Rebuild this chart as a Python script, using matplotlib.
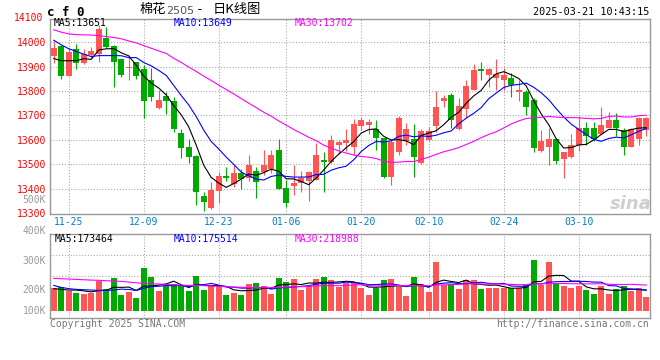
import matplotlib
matplotlib.use('Agg')
import matplotlib.pyplot as plt
import matplotlib.transforms as mtransforms
import numpy as np
import pandas as pd

# ------------------------------
# Datos (棉花2505, velas diarias)
holidays = ['2025-01-01', '2025-01-28', '2025-01-29', '2025-01-30',
            '2025-01-31', '2025-02-03', '2025-02-04']
dates = [d for d in pd.bdate_range('2024-11-21', '2025-03-21')
         if d.strftime('%Y-%m-%d') not in holidays]
date_ticks = ['11-25', '12-09', '12-23', '01-06', '01-20', '02-10', '02-24', '03-10']

opens = [13945, 13985, 13863, 13973, 13913, 13948, 13951, 14019, 13985, 13932,
         13893, 13917, 13891, 13846, 13732, 13781, 13761, 13628, 13571, 13534,
         13370, 13320, 13392, 13452, 13419, 13463, 13443, 13474, 13467, 13481,
         13559, 13402, 13411, 13422, 13433, 13436, 13518, 13507, 13577, 13586,
         13572, 13658, 13661, 13645, 13607, 13449, 13552, 13596, 13604, 13504,
         13600, 13658, 13757, 13784, 13643, 13725, 13805, 13891, 13866, 13852,
         13846, 13855, 13795, 13795, 13764, 13555, 13572, 13604, 13522, 13531,
         13577, 13648, 13648, 13624, 13650, 13682, 13641, 13572, 13604, 13641]
highs = [14003, 13988, 13975, 13992, 13973, 13982, 14071, 14064, 13988, 13937,
         13948, 13920, 13907, 13893, 13803, 13795, 13777, 13645, 13602, 13536,
         13388, 13429, 13470, 13490, 13497, 13481, 13538, 13488, 13557, 13557,
         13602, 13437, 13497, 13473, 13473, 13586, 13552, 13620, 13600, 13643,
         13686, 13695, 13686, 13682, 13609, 13602, 13698, 13668, 13664, 13643,
         13654, 13801, 13784, 13791, 13770, 13846, 13910, 13918, 13895, 13932,
         13896, 13873, 13846, 13805, 13773, 13641, 13648, 13606, 13550, 13624,
         13698, 13672, 13672, 13736, 13713, 13709, 13650, 13650, 13695, 13695]
lows = [13913, 13848, 13862, 13889, 13910, 13934, 13917, 13978, 13818, 13858,
        13844, 13848, 13689, 13761, 13727, 13705, 13634, 13527, 13504, 13333,
        13310, 13316, 13340, 13433, 13408, 13399, 13433, 13361, 13456, 13466,
        13397, 13326, 13374, 13388, 13351, 13434, 13388, 13505, 13541, 13555,
        13538, 13641, 13624, 13559, 13443, 13413, 13536, 13579, 13449, 13501,
        13596, 13634, 13736, 13648, 13641, 13691, 13803, 13846, 13818, 13805,
        13805, 13777, 13761, 13702, 13549, 13552, 13495, 13501, 13445, 13527,
        13556, 13579, 13596, 13622, 13648, 13617, 13536, 13570, 13579, 13617]
closes = [13978, 13862, 13958, 13913, 13951, 13964, 14055, 13981, 13917, 13866,
          13900, 13863, 13757, 13777, 13764, 13757, 13645, 13568, 13531, 13388,
          13347, 13395, 13452, 13443, 13466, 13440, 13497, 13429, 13495, 13536,
          13399, 13343, 13425, 13443, 13470, 13538, 13507, 13600, 13593, 13600,
          13664, 13682, 13671, 13607, 13447, 13589, 13689, 13645, 13531, 13637,
          13637, 13736, 13770, 13682, 13740, 13821, 13887, 13883, 13891, 13869,
          13866, 13825, 13805, 13736, 13568, 13596, 13604, 13515, 13548, 13579,
          13648, 13617, 13604, 13661, 13682, 13650, 13572, 13645, 13691, 13689]
# volumen en miles
volumes = [193, 201, 172, 149, 141, 149, 256, 184, 282, 135,
           161, 112, 368, 290, 172, 213, 230, 213, 172, 299,
           178, 218, 218, 135, 152, 135, 230, 241, 213, 144,
           282, 247, 273, 181, 213, 273, 290, 264, 201, 241,
           247, 195, 135, 193, 264, 273, 201, 126, 290, 230,
           161, 420, 218, 230, 187, 264, 264, 187, 195, 195,
           195, 195, 195, 221, 437, 218, 420, 230, 213, 195,
           213, 178, 144, 213, 144, 187, 213, 170, 195, 121]

# primeros valores de las medias (la historia anterior no se ve)
ma5_head = [13933, 13924, 13924, 13924]
ma10_head = [14008, 13989, 13973, 13962, 13951, 13941, 13945, 13945, 13945]
ma30_head = [14051, 14041, 14034, 14031, 14030, 14029, 14027, 14023, 14019, 14014,
             14005, 13997, 13986, 13975, 13964, 13954, 13934, 13917, 13898, 13880,
             13861, 13843, 13824, 13806, 13788, 13769, 13750, 13732, 13713]
vma5_head = [190, 184, 178, 178]
vma10_head = [218, 201, 190, 184, 181, 178, 175, 175, 178]
vma30_head = [279, 276, 273, 270, 267, 264, 262, 259, 256, 253,
              247, 241, 236, 233, 230, 227, 224, 221, 218, 218,
              216, 213, 210, 207, 204, 202, 200, 199, 199]

RED = '#ff5555'
GREEN = '#00aa00'
GRID = '#aaaaaa'
FRAME = '#999999'
W, H = 660, 360


def fx(x):
    return x / W


def fy(y):
    return 1 - y / H


def moving_avg(values, n, head):
    ma = pd.Series(values, dtype=float).rolling(n).mean().to_numpy()
    ma[:len(head)] = head
    return ma


def style_frame(ax):
    for s in ax.spines.values():
        s.set_color(FRAME)
        s.set_linewidth(1.0)
    ax.tick_params(length=0)


# ------------------------------
def graphic_kline():
    plt.rcParams['font.family'] = ['DejaVu Sans Mono', 'Noto Sans CJK SC']
    mono = 'DejaVu Sans Mono'
    cjk = ['Noto Sans CJK SC', 'DejaVu Sans']

    o = np.array(opens, dtype=float)
    c = np.array(closes, dtype=float)
    x = np.arange(len(closes))
    colors = np.where(c >= o, RED, GREEN)
    tick_idx = [[d.strftime('%m-%d') for d in dates].index(t) for t in date_ticks]

    fig = plt.figure(figsize=(6.6, 3.6), dpi=100)
    ax = fig.add_axes([fx(50), fy(213.5), 600 / W, (213.5 - 19) / H])
    axv = fig.add_axes([fx(50), fy(318), 600 / W, (318 - 234.3) / H])

    # Velas
    ax.vlines(x, lows, highs, colors=colors, linewidth=0.8)
    body = np.maximum(np.abs(c - o), 4)
    ax.bar(x, body, bottom=np.minimum(o, c), width=0.74, color=colors, linewidth=0)

    ax.plot(x, moving_avg(closes, 5, ma5_head), color='black', lw=0.8)
    ax.plot(x, moving_avg(closes, 10, ma10_head), color='#0000ff', lw=0.8)
    ax.plot(x, moving_avg(closes, 30, ma30_head), color='#ff00ff', lw=0.8)

    ax.set_xlim(-0.5, len(closes) - 0.5)
    ax.set_ylim(13298, 14095)
    ax.set_yticks(range(13300, 14001, 100))
    ax.set_yticklabels([str(v) for v in range(13300, 14001, 100)],
                       color='#ff0000', fontsize=7, family=mono)
    ax.set_xticks(tick_idx)
    ax.set_xticklabels(date_ticks, color='#0080c8', fontsize=7, family=mono)
    ax.tick_params(axis='y', pad=3)
    ax.tick_params(axis='x', pad=2.5)
    style_frame(ax)
    for v in range(13400, 14001, 100):
        ax.axhline(v, color=GRID, lw=0.8, ls=(0, (1, 1.6)), zorder=0)
    for t in tick_idx:
        ax.axvline(t, color=GRID, lw=0.8, ls=(0, (1, 1.6)), zorder=0)
    ax.text(-0.012, 14100, '14100', transform=mtransforms.blended_transform_factory(ax.transAxes, ax.transData),
            ha='right', va='center', color='#ff0000', fontsize=7, family=mono, clip_on=False)

    fig.text(fx(54), fy(23), 'MA5:13651', color='black', fontsize=7, family=mono, va='center')
    fig.text(fx(174), fy(23), 'MA10:13649', color='#0000ff', fontsize=7, family=mono, va='center')
    fig.text(fx(295), fy(23), 'MA30:13702', color='#ff00ff', fontsize=7, family=mono, va='center')

    # marca de agua
    fig.text(fx(631), fy(204), 'sina', color='#cfcfcf', fontsize=13, style='italic',
             weight='bold', family='DejaVu Sans', ha='center', va='center')

    # Volumen
    axv.bar(x, volumes, width=0.86, color=colors, linewidth=0)
    axv.plot(x, moving_avg(volumes, 5, vma5_head), color='black', lw=0.8)
    axv.plot(x, moving_avg(volumes, 10, vma10_head), color='#0000ff', lw=0.8)
    axv.plot(x, moving_avg(volumes, 30, vma30_head), color='#ff00ff', lw=0.8)
    axv.set_xlim(-0.5, len(closes) - 0.5)
    axv.set_ylim(-63, 659)
    axv.set_xticks([])
    axv.set_yticks([])
    style_frame(axv)
    y0, y1 = axv.get_ylim()
    for f in (0.5, 0.75):
        axv.axhline(y0 + f * (y1 - y0), color=GRID, lw=0.8, ls=(0, (1, 1.6)), zorder=0)
    for t in tick_idx:
        axv.axvline(t, color=GRID, lw=0.8, ls=(0, (1, 1.6)), zorder=0)

    for label, yy in [('500K', 200), ('400K', 230.7), ('300K', 260.7), ('200K', 290), ('100K', 310.7)]:
        fig.text(fx(46), fy(yy), label, color='#999999', fontsize=7, family=mono, ha='right', va='center')

    fig.text(fx(55), fy(238.5), 'MA5:173464', color='black', fontsize=7, family=mono, va='center')
    fig.text(fx(174), fy(238.5), 'MA10:175514', color='#0000ff', fontsize=7, family=mono, va='center')
    fig.text(fx(295), fy(238.5), 'MA30:218988', color='#ff00ff', fontsize=7, family=mono, va='center')

    # Cabecera
    fig.text(fx(47), fy(13), 'c f 0', color='black', fontsize=9, family=mono, weight='bold', va='center')
    fig.text(fx(140), fy(10), '棉花', color='black', fontsize=9.5, family=cjk, va='center')
    fig.text(fx(166.5), fy(10.5), '2505', color='#555555', fontsize=8, family='DejaVu Sans', va='center')
    fig.text(fx(200), fy(10), '-', color='black', fontsize=9.5, family=mono, ha='center', va='center')
    fig.text(fx(213), fy(10), '日K线图', color='black', fontsize=9.5, family=cjk, va='center')
    fig.text(fx(649), fy(12), '2025-03-21 10:43:15', color='black', fontsize=7.3, family=mono,
             ha='right', va='center')

    # Pie
    fig.text(fx(50), fy(324), 'Copyright 2025 SINA.COM', color='#777777', fontsize=7, family=mono, va='center')
    fig.text(fx(649), fy(324), 'http://finance.sina.com.cn', color='#777777', fontsize=7, family=mono,
             ha='right', va='center')

    fig.savefig('out.png', dpi=100, facecolor='white')


graphic_kline()
